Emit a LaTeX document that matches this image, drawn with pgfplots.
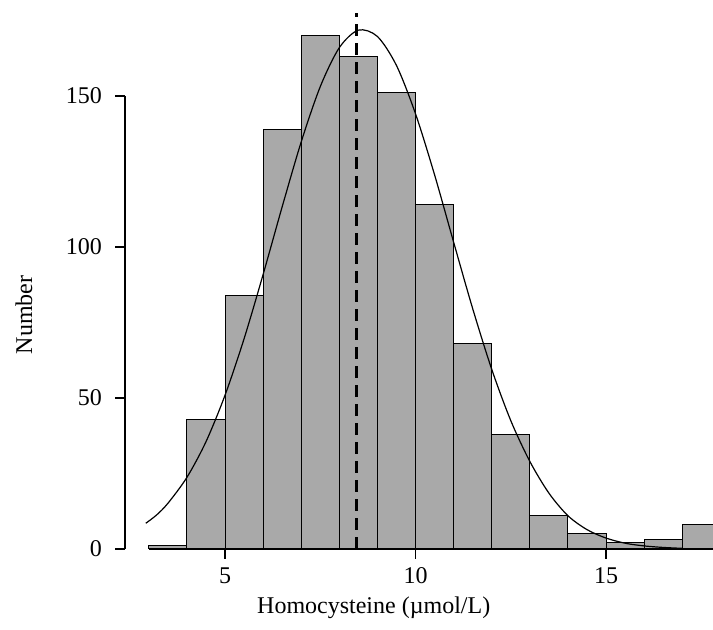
\documentclass[border=0pt]{standalone}
\usepackage{fontspec}
\setmainfont{Liberation Serif}
\usepackage{pgfplots}
\pgfplotsset{compat=1.18}
\definecolor{histgray}{RGB}{169,169,169}

\begin{document}
\begin{tikzpicture}
\begin{axis}[
    name=main,
    scale only axis,
    width=294pt,
    height=268pt,
    xmin=2.375, xmax=17.808,
    ymin=0, ymax=177.5,
    clip=false,
    axis line style={draw=none},
    xtick={5,10,15},
    ytick={0,50,100,150},
    xtick pos=bottom,
    ytick pos=left,
    tick align=outside,
    major tick length=5pt,
    tick style={black, line width=0.6pt},
    /pgf/number format/assume math mode=true,
    ticklabel style={font=\fontsize{12}{14}\selectfont},
    yticklabel style={xshift=-3pt},
    xticklabel style={yshift=-1pt},
    label style={font=\fontsize{12}{14}\selectfont},
    xlabel={Homocysteine (µmol/L)},
    ylabel={Number},
    xlabel style={at={(axis description cs:0.423,-0.110)}, anchor=center},
    ylabel style={at={(axis description cs:-0.172,0.437)}, anchor=center, rotate=0},
    ]

    % histogram, bins of width 1
    \addplot[ybar interval, fill=histgray, draw=black, line width=0.5pt] coordinates {
        (3,1) (4,43) (5,84) (6,139) (7,170) (8,163) (9,151) (10,114)
        (11,68) (12,38) (13,11) (14,5) (15,2) (16,3) (17,8) (18,0)
    };

    % baseline of the bars
    \addplot[black, line width=1.1pt] coordinates {(3,0) (18,0)};

    % fitted normal curve
    \addplot[black, line width=0.6pt, smooth] coordinates {
        (2.92,8.5) (3.2,11.2) (3.5,15.1) (4,23.7) (4.5,35.5) (5,50.9) (5.5,69.6)
        (6,90.9) (6.5,113.3) (7,134.8) (7.5,153.1) (8,166.0) (8.5,171.8)
        (9,169.7) (9.5,160.1) (10,144.1) (10.5,123.9) (11,101.6) (11.5,79.6)
        (12,59.5) (12.5,42.5) (13,29.0) (13.5,18.5) (14,11.0) (14.5,6.4)
        (15,3.6) (15.5,1.9) (16,1.0) (16.5,0.5) (17,0.2)
    };

    % mean
    \addplot[black, line width=1.5pt, dash pattern=on 6pt off 3.5pt] coordinates {(8.46,0) (8.46,177.5)};

    % y axis line
    \addplot[black, line width=0.6pt] coordinates {(2.375,0) (2.375,150)};

    \coordinate (tl) at (axis cs:-0.906,181.79);
    \coordinate (br) at (axis cs:17.808,-26.82);
\end{axis}
\pgfresetboundingbox
\useasboundingbox (tl) rectangle (br);
\end{tikzpicture}
\end{document}
